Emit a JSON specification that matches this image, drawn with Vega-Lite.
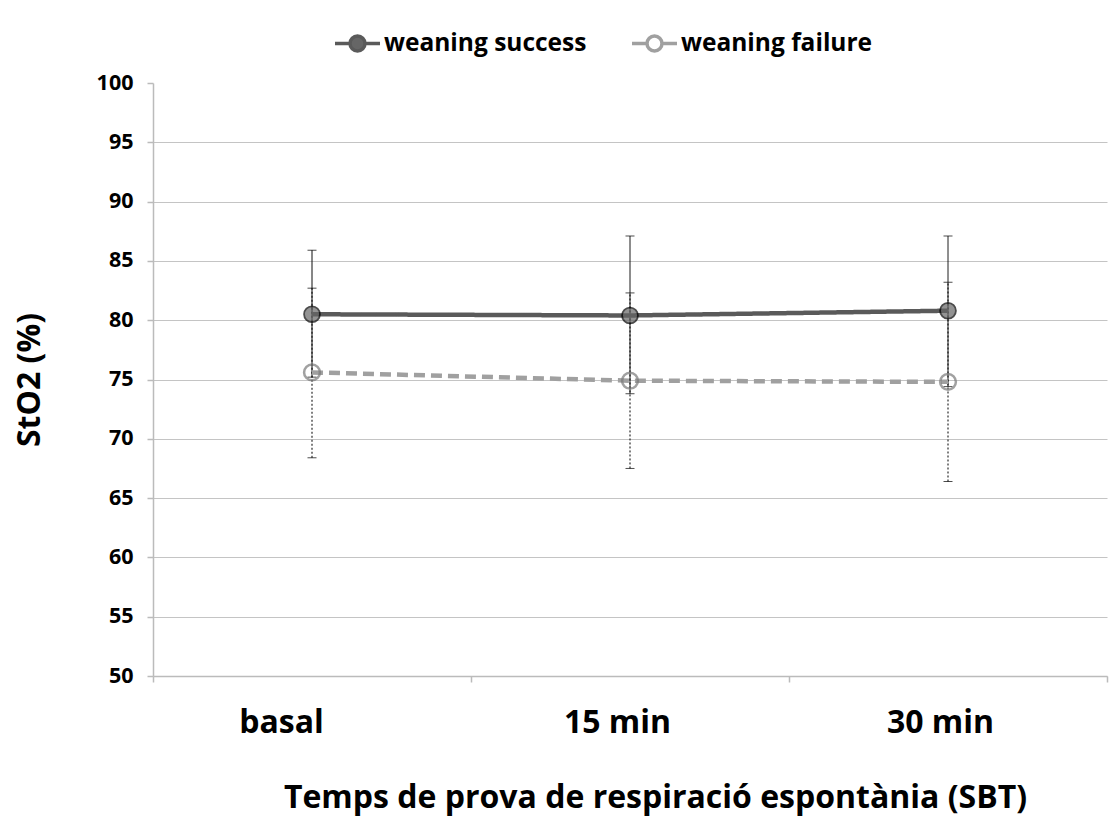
{
  "$schema": "https://vega.github.io/schema/vega-lite/v6.json",
  "width": 954,
  "height": 593,
  "autosize": {"type": "none"},
  "padding": {"left": 153, "top": 83, "right": 12, "bottom": 140},
  "background": "white",
  "config": {"view": {"stroke": null}, "font": "Open Sans"},
  "data": {
    "values": [
      {"series": "weaning success", "time": "basal", "mean": 80.5, "lo": 75.2, "hi": 85.9},
      {"series": "weaning success", "time": "15 min", "mean": 80.4, "lo": 73.8, "hi": 87.1},
      {"series": "weaning success", "time": "30 min", "mean": 80.8, "lo": 74.4, "hi": 87.1},
      {"series": "weaning failure", "time": "basal", "mean": 75.6, "lo": 68.4, "hi": 82.7},
      {"series": "weaning failure", "time": "15 min", "mean": 74.9, "lo": 67.5, "hi": 82.3},
      {"series": "weaning failure", "time": "30 min", "mean": 74.8, "lo": 66.4, "hi": 83.2}
    ]
  },
  "encoding": {
    "x": {
      "field": "time",
      "type": "nominal",
      "sort": ["basal", "15 min", "30 min"],
      "scale": {"paddingInner": 0, "paddingOuter": 0},
      "axis": {
        "title": "Temps de prova de respiració espontània (SBT)",
        "titleFontSize": 32,
        "titleFontWeight": "bold",
        "titleColor": "#000000",
        "titleX": 502,
        "titleY": 131,
        "titleBaseline": "alphabetic",
        "titleAlign": "center",
        "labelAngle": 0,
        "labelFontSize": 32,
        "labelFontWeight": "bold",
        "labelColor": "#000000",
        "labelPadding": 25,
        "labelOffset": {"condition": [{"test": "datum.value === 'basal'", "value": -31}, {"test": "datum.value === '15 min'", "value": -13}], "value": -8},
        "tickBand": "extent",
        "tickSize": 6,
        "tickColor": "#bbbbbb",
        "tickWidth": 1.5,
        "domainColor": "#bbbbbb",
        "domainWidth": 1.5,
        "grid": false
      }
    }
  },
  "layer": [
    {
      "mark": {"type": "rule", "color": "#000000", "strokeWidth": 1},
      "encoding": {
        "y": {"field": "lo", "type": "quantitative", "scale": {"domain": [50, 100], "nice": false}},
        "y2": {"field": "hi"},
        "strokeDash": {"condition": {"test": "datum.series === 'weaning failure'", "value": [2, 2]}, "value": [1, 0]}
      }
    },
    {
      "mark": {"type": "tick", "color": "#000000", "thickness": 1, "size": 9},
      "encoding": {"y": {"field": "hi", "type": "quantitative"}}
    },
    {
      "mark": {"type": "tick", "color": "#000000", "thickness": 1, "size": 9},
      "encoding": {"y": {"field": "lo", "type": "quantitative"}}
    },
    {
      "mark": {"type": "line", "strokeWidth": 4.5},
      "encoding": {
        "y": {
          "field": "mean",
          "type": "quantitative",
          "scale": {"domain": [50, 100], "nice": false},
          "axis": {
            "values": [50, 55, 60, 65, 70, 75, 80, 85, 90, 95, 100],
            "title": "StO2 (%)",
            "titleFontSize": 32,
            "titleFontWeight": "bold",
            "titleColor": "#000000",
            "titlePadding": 50,
            "labelFontSize": 21.5,
            "labelFontWeight": "bold",
            "labelColor": "#000000",
            "labelPadding": 14,
            "tickSize": 6,
            "tickColor": "#bbbbbb",
            "tickWidth": 1.5,
            "domainColor": "#bbbbbb",
            "domainWidth": 1.5,
            "gridColor": "#c4c4c4",
            "gridWidth": 1,
            "gridOpacity": {"condition": {"test": "datum.value === 100", "value": 0}, "value": 1}
          }
        },
        "color": {
          "field": "series",
          "type": "nominal",
          "scale": {"domain": ["weaning success", "weaning failure"], "range": ["#5a5a5a", "#a0a0a0"]},
          "legend": {
            "title": null,
            "orient": "none",
            "legendX": 180,
            "legendY": -64,
            "direction": "horizontal",
            "symbolType": "M-1,0L-0.333,0M0.333,0L1,0M0.333,0A0.333,0.333,0,1,1,-0.333,0A0.333,0.333,0,1,1,0.333,0Z",
            "symbolSize": 2025,
            "symbolStrokeWidth": 3.5,
            "labelFontSize": 24.5,
            "labelFontWeight": "bold",
            "labelColor": "#000000",
            "labelOffset": 2,
            "labelLimit": 0,
            "columnPadding": 38,
            "encode": {
              "symbols": {
                "update": {
                  "fill": {"signal": "datum.value === 'weaning success' ? '#666666' : '#ffffff'"},
                  "stroke": {"signal": "datum.value === 'weaning success' ? '#3a3a3a' : '#999999'"}
                }
              }
            }
          }
        },
        "strokeDash": {"condition": {"test": "datum.series === 'weaning failure'", "value": [11, 6]}, "value": [1, 0]}
      }
    },
    {
      "mark": {"type": "point", "shape": "circle", "size": 250, "filled": true},
      "encoding": {
        "y": {"field": "mean", "type": "quantitative"},
        "fill": {"condition": {"test": "datum.series === 'weaning success'", "value": "#666666"}, "value": "transparent"},
        "stroke": {"condition": {"test": "datum.series === 'weaning success'", "value": "#000000"}, "value": "#7a7a7a"},
        "strokeWidth": {"condition": {"test": "datum.series === 'weaning success'", "value": 1.8}, "value": 2.5}
      }
    }
  ]
}
